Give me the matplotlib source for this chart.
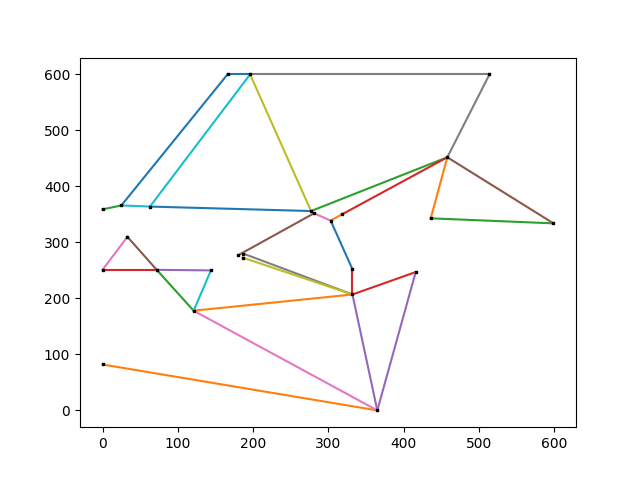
import matplotlib
matplotlib.use("Agg")
import matplotlib.pyplot as plt

# vertices
pts = {
    "A": (166, 600), "B": (196, 600), "C": (25, 366), "D": (0, 359),
    "E": (63, 364), "F": (277, 356), "G": (281, 352), "H": (303, 339),
    "I": (318, 350), "J": (33, 310), "K": (514, 600), "L": (458, 452),
    "M": (436, 343), "N": (599, 334), "O": (0, 251), "P": (72, 251),
    "Q": (144, 250), "R": (121, 178), "S": (0, 82), "T": (180, 277),
    "U": (187, 280), "U2": (186, 273), "V": (332, 207), "W": (332, 252),
    "X": (416, 247), "Y": (365, 0),
}

# edges grouped by their colour in the default cycle
edges_c0 = [("C", "A"), ("A", "B"), ("E", "F"), ("H", "W")]
edges_c1 = [("H", "I"), ("L", "M"), ("R", "V"), ("S", "Y")]
edges_c2 = [("D", "C"), ("F", "L"), ("M", "N"), ("P", "R")]
edges_c3 = [("I", "L"), ("O", "P"), ("W", "V"), ("V", "X")]
edges_c4 = [("P", "Q"), ("V", "Y"), ("Y", "X")]
edges_c5 = [("J", "P"), ("G", "T"), ("L", "N")]
edges_c6 = [("O", "J"), ("G", "H"), ("R", "Y")]
edges_c7 = [("B", "K"), ("K", "L"), ("U", "V")]
edges_c8 = [("B", "F"), ("U2", "V")]
edges_c9 = [("C", "E"), ("E", "B"), ("Q", "R")]

groups = [edges_c0, edges_c1, edges_c2, edges_c3, edges_c4,
          edges_c5, edges_c6, edges_c7, edges_c8, edges_c9]

fig, ax = plt.subplots(figsize=(6.4, 4.8), dpi=100)

for i, edges in enumerate(groups):
    for a, b in edges:
        ax.plot([pts[a][0], pts[b][0]], [pts[a][1], pts[b][1]], color=f"C{i}")

xs = [p[0] for p in pts.values()]
ys = [p[1] for p in pts.values()]
ax.scatter(xs, ys, s=1.5, marker="s", color="black", zorder=3)

fig.savefig("out.png")
